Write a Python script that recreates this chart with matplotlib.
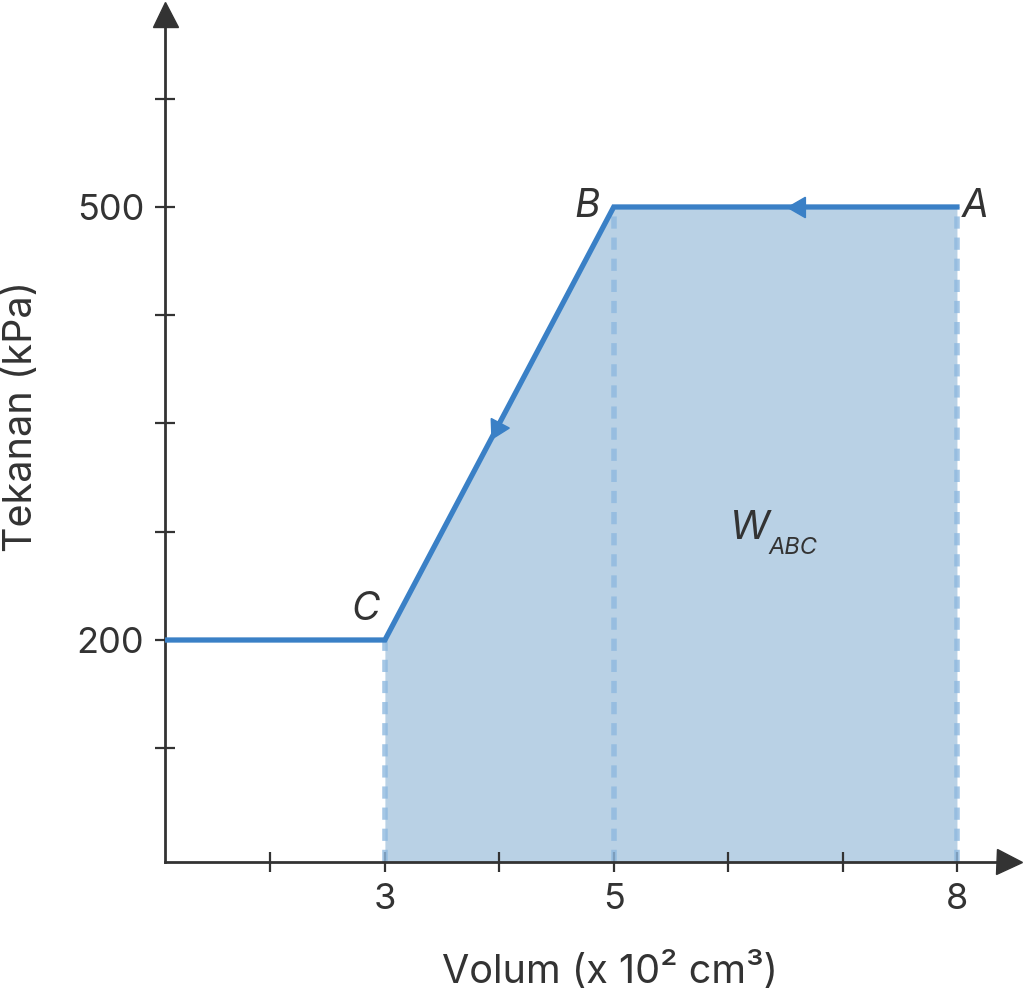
import numpy as np
import matplotlib.pyplot as plt

# data: cycle A -> B -> C plus horizontal run-in to the left of C
pts = ['A', 'B', 'C']
vol = [8, 5, 3]          # x 10^2 cm^3
pres = [500, 500, 200]   # kPa
vol_left = 1.0
xticks_minor = [2, 3, 4, 5, 6, 7, 8]
xtick_labels = {3: '3', 5: '5', 8: '8'}
yticks_minor = [125, 200, 275, 350, 425, 500, 575]
ytick_labels = {200: '200', 500: '500'}

plt.rcParams['font.family'] = ['Inter', 'DejaVu Sans']

line_c = '#3a80c6'
fill_c = '#b9d1e5'
dash_c = '#8fb9df'
ax_c = '#333333'

fig = plt.figure(figsize=(10.24, 10.0), dpi=100)
x0, x1 = 1.078, 8.455
y0, y1 = 46.2, 633.7
ax = fig.add_axes([165 / 1024, 138 / 1000, (1009 - 165) / 1024, (986 - 138) / 1000])
ax.set_xlim(x0, x1)
ax.set_ylim(y0, y1)

# shaded work area under A-B-C
ax.fill_between(vol[::-1], pres[::-1], y0, color=fill_c, lw=0, zorder=1)
for v, p in zip(vol, pres):
    ax.plot([v, v], [y0, p], color=dash_c, lw=4, ls=(0, (2.2, 1.6)), alpha=0.8, zorder=2)

# process line
ax.plot([x0] + vol[::-1], [pres[-1]] + pres[::-1], color=line_c, lw=3.8,
        solid_joinstyle='miter', zorder=3)

# direction arrows on the path
def dir_arrow(xa, ya, xb, yb, frac):
    xm = xa + (xb - xa) * frac
    ym = ya + (yb - ya) * frac
    pa = ax.transData.transform((xa, ya))
    pb = ax.transData.transform((xb, yb))
    ang = np.degrees(np.arctan2(pb[1] - pa[1], pb[0] - pa[0]))
    ax.plot(xm, ym, marker=(3, 0, ang - 90), ms=17, color=line_c, mec=line_c, zorder=4)

dir_arrow(vol[0], pres[0], vol[1], pres[1], 0.46)
dir_arrow(vol[1], pres[1], vol[2], pres[2], 0.51)

# point labels
lbl = dict(fontsize=28, style='italic', color=ax_c, ha='center', va='center')
ax.text(4.77, 500, 'B', **lbl)
ax.text(8.16, 500, 'A', **lbl)
ax.text(2.83, 221, 'C', **lbl)
ax.text(6.19, 277, 'W', fontsize=29, style='italic', color=ax_c, ha='center', va='center')
ax.text(6.57, 264, 'ABC', fontsize=17, style='italic', color=ax_c, ha='center', va='center')

# axes styling
for s in ['top', 'right']:
    ax.spines[s].set_visible(False)
for s in ['left', 'bottom']:
    ax.spines[s].set_color(ax_c)
    ax.spines[s].set_linewidth(2)
ax.set_xticks(xticks_minor)
ax.set_xticklabels([xtick_labels.get(t, '') for t in xticks_minor])
ax.set_yticks(yticks_minor)
ax.set_yticklabels([ytick_labels.get(t, '') for t in yticks_minor])
ax.tick_params(direction='inout', length=14, width=1.6, color=ax_c,
               labelsize=26, labelcolor=ax_c)
ax.tick_params(axis='x', pad=8)
ax.tick_params(axis='y', pad=8)

# axis arrowheads
ax.plot(x1, y0, marker='>', ms=18, color=ax_c, clip_on=False, zorder=5)
ax.plot(x0, y1, marker='^', ms=18, color=ax_c, clip_on=False, zorder=5)

fig.text(610 / 1024, 1 - 972 / 1000, 'Volum (x 10² cm³)', fontsize=28.5, color=ax_c,
         ha='center', va='center')
fig.text(22 / 1024, 1 - 416 / 1000, 'Tekanan (kPa)', fontsize=28.5, color=ax_c,
         ha='center', va='center', rotation=90)

fig.savefig('out.png', dpi=100)
